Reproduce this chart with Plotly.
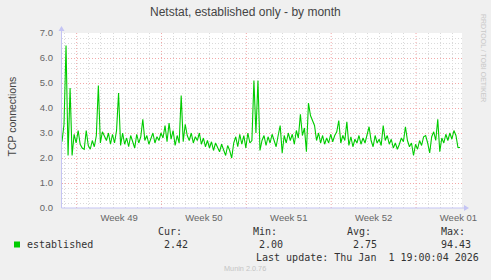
import plotly.graph_objects as go
import pandas as pd

# ---------------- data ----------------
TITLE = "Netstat, established only - by month"
Y_TITLE = "TCP connections"
START = "2025-11-29 19:00"
END = "2026-01-01 19:00"
STEP = "4h"

established = [
    2.65, 3.35, 6.5, 2.1, 4.8, 2.1, 2.95, 2.6, 3.1, 2.55,
    2.4, 2.35, 3.1, 2.5, 2.35, 2.7, 2.45, 2.9, 4.9, 2.6,
    3.05, 2.85, 2.7, 3.0, 2.55, 2.95, 2.6, 3.1, 4.6, 2.5,
    3.0, 2.55, 2.8, 2.45, 2.9, 2.65, 2.4, 2.95, 2.6, 2.85,
    3.55, 2.7, 2.9, 2.55, 2.75, 3.0, 2.6, 2.85, 2.7, 3.0,
    2.8, 3.3, 2.65, 3.4, 2.75, 3.1, 2.5, 2.9, 2.6, 4.5,
    2.65, 3.35, 2.9, 2.7, 3.0, 2.6, 2.85, 2.7, 3.0, 2.55,
    2.8, 2.45, 2.7, 2.4, 2.65, 2.3, 2.6, 2.45, 2.25, 2.55,
    2.35, 2.1, 2.5, 2.3, 2.0, 2.6, 2.85, 2.45, 2.95, 2.55,
    2.9, 2.4, 3.0, 2.6, 2.7, 5.1, 3.0, 5.1, 2.3, 2.7,
    2.9, 2.5, 2.85, 2.6, 2.95, 2.7, 2.45, 2.9, 3.3, 2.2,
    2.9, 2.6, 3.0, 2.7, 2.95, 2.55, 3.1, 2.8, 3.75, 2.9,
    3.2, 2.25, 4.2, 3.7, 3.5, 3.3, 2.7, 3.0, 2.6, 2.9,
    2.55, 2.8, 2.6, 2.95, 2.65, 2.9, 3.05, 3.5, 2.6, 2.9,
    2.7, 3.45, 2.5, 2.85, 2.45, 2.75, 2.6, 2.9, 2.55, 2.8,
    2.6, 3.0, 3.25, 2.7, 2.45, 2.9, 2.6, 2.75, 2.5, 3.3,
    2.7, 2.9, 2.55, 2.75, 2.4, 2.6, 2.35, 2.55, 2.8, 2.65,
    3.25, 2.7, 2.45, 2.6, 2.1, 2.55, 2.35, 2.7, 2.5, 2.85,
    2.9, 2.6, 2.2, 2.85, 3.05, 2.7, 3.55, 2.25, 2.8, 2.6,
    2.95, 2.7, 3.0, 2.75, 3.1, 2.9, 2.42, 2.42,
]

week_starts = ["2025-12-01", "2025-12-08", "2025-12-15", "2025-12-22", "2025-12-29"]
week_label_pos = ["2025-12-04 12:00", "2025-12-11 12:00", "2025-12-18 12:00",
                  "2025-12-25 12:00", "2026-01-01 12:00"]
week_labels = ["Week 49", "Week 50", "Week 51", "Week 52", "Week 01"]
y_ticks = [0, 1, 2, 3, 4, 5, 6, 7]

legend_name = "established"
stats_labels = ["Cur:", "Min:", "Avg:", "Max:"]
stats_values = ["2.42", "2.00", "2.75", "94.43"]
last_update = "Last update: Thu Jan\u00a0 1 19:00:04 2026"
watermark = "RRDTOOL / TOBI OETIKER"
footer = "Munin 2.0.76"

# ---------------- layout helpers ----------------
W, H = 491, 280
L, R, T, B = 62, 462, 33, 208


def px(x):
    return (x - L) / (R - L)


def py(y):
    return (B - y) / (B - T)


times = pd.date_range(start=START, periods=len(established), freq=STEP)

# daily minor grid, skipping the week boundaries (those get the red major line)
all_days = pd.date_range("2025-11-30", "2026-01-01", freq="D")
week_set = set(pd.to_datetime(week_starts))
minor_days = [d.strftime("%Y-%m-%d") for d in all_days if d not in week_set]

GREEN = "#00CC00"
RED_GRID = "#F2A8A8"
GRAY_GRID = "#DADADA"
AXIS_COL = "#C4C4F4"
TXT = "#444444"
TICK_TXT = "#666666"

fig = go.Figure()
fig.add_trace(go.Scatter(x=times, y=established, mode="lines",
                         line=dict(color=GREEN, width=1.1), showlegend=False,
                         hoverinfo="skip"))

fig.update_layout(
    width=W, height=H,
    margin=dict(l=L, r=W - R, t=T, b=H - B, pad=0),
    paper_bgcolor="#F0F0F0",
    plot_bgcolor="#FFFFFF",
    showlegend=False,
    font=dict(family="Liberation Sans, Arial, sans-serif", color=TXT),
)

fig.update_xaxes(
    type="date",
    range=[START, END],
    tickmode="array", tickvals=week_label_pos, ticktext=week_labels,
    showgrid=False, zeroline=False, showline=False,
    ticks="", ticklabelstandoff=2,
    tickfont=dict(family="Liberation Sans, Arial, sans-serif", size=9.5, color=TICK_TXT),
    minor=dict(tickmode="array", tickvals=minor_days,
               showgrid=True, gridcolor=GRAY_GRID, griddash="1px,2px", gridwidth=1),
)

fig.update_yaxes(
    range=[0, 7], tickmode="array", tickvals=y_ticks,
    ticktext=[f"{v:.1f}" for v in y_ticks],
    showgrid=True, gridcolor=RED_GRID, griddash="1px,2px", gridwidth=1,
    zeroline=False, showline=False, ticks="", ticklabelstandoff=8,
    tickfont=dict(family="Liberation Sans, Arial, sans-serif", size=9.5, color=TICK_TXT),
    minor=dict(tickmode="linear", tick0=0, dtick=0.2,
               showgrid=True, gridcolor=GRAY_GRID, griddash="1px,2px", gridwidth=1),
)

# week boundary (major) vertical grid lines
for ws in week_starts:
    fig.add_shape(type="line", xref="x", yref="y domain", x0=ws, x1=ws, y0=0, y1=1,
                  line=dict(color=RED_GRID, width=1, dash="1px,2px"), layer="below")

# axes with arrows
fig.add_shape(type="line", xref="paper", yref="paper", x0=px(61.5), x1=px(61.5),
              y0=py(208), y1=py(28), line=dict(color=AXIS_COL, width=1), layer="above")
fig.add_shape(type="line", xref="paper", yref="paper", x0=px(61.5), x1=px(466),
              y0=py(208), y1=py(208), line=dict(color=AXIS_COL, width=1), layer="above")
fig.add_shape(type="path", xref="paper", yref="paper",
              path=f"M {px(58.5)} {py(31)} L {px(64.5)} {py(31)} L {px(61.5)} {py(26)} Z",
              fillcolor=AXIS_COL, line=dict(width=0), layer="above")
fig.add_shape(type="path", xref="paper", yref="paper",
              path=f"M {px(464)} {py(205)} L {px(464)} {py(211)} L {px(469)} {py(208)} Z",
              fillcolor=AXIS_COL, line=dict(width=0), layer="above")

# legend colour box
fig.add_shape(type="rect", xref="paper", yref="paper", x0=px(14), x1=px(20), y0=py(247.5), y1=py(241.5),
              fillcolor=GREEN, line=dict(width=0), layer="above")

ann = []
# title
ann.append(dict(x=px(245.5), y=py(12), text=TITLE, xanchor="center", yanchor="middle",
                font=dict(family="Liberation Sans, Arial, sans-serif", size=12, color="#444444")))
# y title
ann.append(dict(x=px(11.5), y=py(117), text=Y_TITLE, textangle=-90, xanchor="center",
                yanchor="middle",
                font=dict(family="Liberation Sans, Arial, sans-serif", size=10.5, color="#444444")))
# watermark
ann.append(dict(x=px(484), y=py(58), text=watermark, textangle=90, xanchor="center",
                yanchor="middle",
                font=dict(family="Liberation Sans, Arial, sans-serif", size=7, color="#C8C8C8")))
# footer
ann.append(dict(x=px(245), y=py(268), text=footer, xanchor="center", yanchor="middle",
                font=dict(family="Liberation Sans, Arial, sans-serif", size=7.3, color="#C4C4C4")))

MONO = dict(family="DejaVu Sans Mono, monospace", size=10, color="#333333")
ann.append(dict(x=px(25), y=py(244.5), text=legend_name, xanchor="left", yanchor="middle", font=MONO))
label_x = [157, 252, 346, 440]
value_x = [163, 258, 352, 440]
for lab, lx in zip(stats_labels, label_x):
    ann.append(dict(x=px(lx - 1), y=py(231.5), text=lab, xanchor="left", yanchor="middle", font=MONO))
for val, vx in zip(stats_values, value_x):
    ann.append(dict(x=px(vx - 1), y=py(244.5), text=val, xanchor="left", yanchor="middle", font=MONO))
ann.append(dict(x=px(254), y=py(257), text=last_update, xanchor="left", yanchor="middle", font=MONO))

for a in ann:
    a.update(xref="paper", yref="paper", showarrow=False)
fig.update_layout(annotations=ann)

fig.write_html("out.html")
